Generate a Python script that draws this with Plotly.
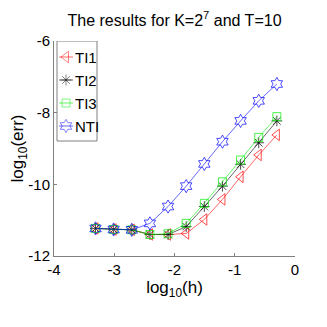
import numpy as np
import plotly.graph_objects as go

# -- data (h = 2^-1 ... 2^-11)
log_h = [-0.301, -0.602, -0.903, -1.204, -1.505, -1.806, -2.107, -2.408, -2.709, -3.010, -3.311]
err_TI1 = [-8.62, -9.18, -9.79, -10.42, -10.98, -11.37, -11.40, -11.40, -11.27, -11.26, -11.23]
err_TI2 = [-8.23, -8.84, -9.44, -10.05, -10.62, -11.18, -11.40, -11.40, -11.27, -11.26, -11.23]
err_TI3 = [-8.11, -8.69, -9.32, -9.93, -10.53, -11.09, -11.38, -11.40, -11.27, -11.26, -11.23]
err_NTI = [-7.20, -7.67, -8.23, -8.81, -9.43, -10.05, -10.62, -11.09, -11.27, -11.26, -11.23]

x_ticks = [-4, -3, -2, -1, 0]
y_ticks = [-12, -10, -8, -6]

font_fam = "Liberation Sans, Arial, sans-serif"

series = [
    ("TI1", err_TI1, "#ff0000", "triangle-left-open", 10),
    ("TI2", err_TI2, "#000000", "asterisk-open", 9),
    ("TI3", err_TI3, "#00ee00", "square-open", 8),
    ("NTI", err_NTI, "#0000ff", "hexagram-open", 10),
]

# page body has an 8px margin, so the figure is made smaller and offset
W = 311
ML, MR, MT, MB = 46, 24, 33, 63

fig = go.Figure()
for name, vals, col, sym, sz in series:
    fig.add_trace(go.Scatter(
        x=log_h, y=vals, name=name, mode="lines+markers", showlegend=False,
        line=dict(color=col, width=0.6),
        marker=dict(symbol=sym, size=sz, color=col, line=dict(color=col, width=0.7)),
    ))

# -- hand-made legend (matlab style, narrow box) on a hidden pixel axis
# pixel axis: x 0..241 left->right, y 0..215 top->bottom of the plot area
leg_box = dict(x0=3, x1=43, y0=0, y1=100)
leg_y0, leg_dy = 16, 23
for i, (name, vals, col, sym, sz) in enumerate(series):
    yy = leg_y0 + i * leg_dy
    fig.add_trace(go.Scatter(
        x=[5, 12, 19], y=[yy, yy, yy], mode="lines+markers", showlegend=False,
        xaxis="x2", yaxis="y2", hoverinfo="skip",
        line=dict(color=col, width=0.6),
        marker=dict(symbol=sym, size=[0, sz, 0], color=col, line=dict(color=col, width=0.7)),
    ))
    fig.add_annotation(x=19, y=yy, xref="x2", yref="y2", text=name, showarrow=False,
                       xanchor="left", yanchor="middle",
                       font=dict(family=font_fam, size=15, color="#000000"))
fig.add_shape(type="rect", xref="x2", yref="y2", line=dict(color="#808080", width=1),
              fillcolor="rgba(255,255,255,0)", layer="below", **leg_box)

axis_common = dict(
    showline=True, linecolor="#808080", linewidth=1, mirror=False,
    ticks="inside", ticklen=3, tickcolor="#808080",
    showgrid=False, zeroline=False, automargin=False,
    tickfont=dict(family=font_fam, size=15, color="#000000"),
)

fig.update_layout(
    width=W, height=W,
    margin=dict(l=ML, r=MR, t=MT, b=MB),
    paper_bgcolor="white", plot_bgcolor="white",
    title=dict(text="The results for K=2<sup>7</sup> and T=10", x=0.5, xref="paper",
               xanchor="center", y=1 - 12 / W, yanchor="middle", automargin=False,
               font=dict(family=font_fam, size=16, color="#000000")),
    xaxis=dict(range=[-4, 0], tickvals=x_ticks, ticktext=[str(t) for t in x_ticks],
               title=dict(text="log<sub>10</sub>(h)", standoff=2,
                          font=dict(family=font_fam, size=17, color="#000000")),
               **axis_common),
    yaxis=dict(range=[-12, -6], tickvals=y_ticks, ticktext=[str(t) for t in y_ticks],
               title=dict(text="log<sub>10</sub>(err)", standoff=8,
                          font=dict(family=font_fam, size=17, color="#000000")),
               **axis_common),
    xaxis2=dict(range=[0, 241], overlaying="x", visible=False, fixedrange=True),
    yaxis2=dict(range=[215, 0], overlaying="y", visible=False, fixedrange=True),
    showlegend=False,
)

fig.write_html("out.html")
